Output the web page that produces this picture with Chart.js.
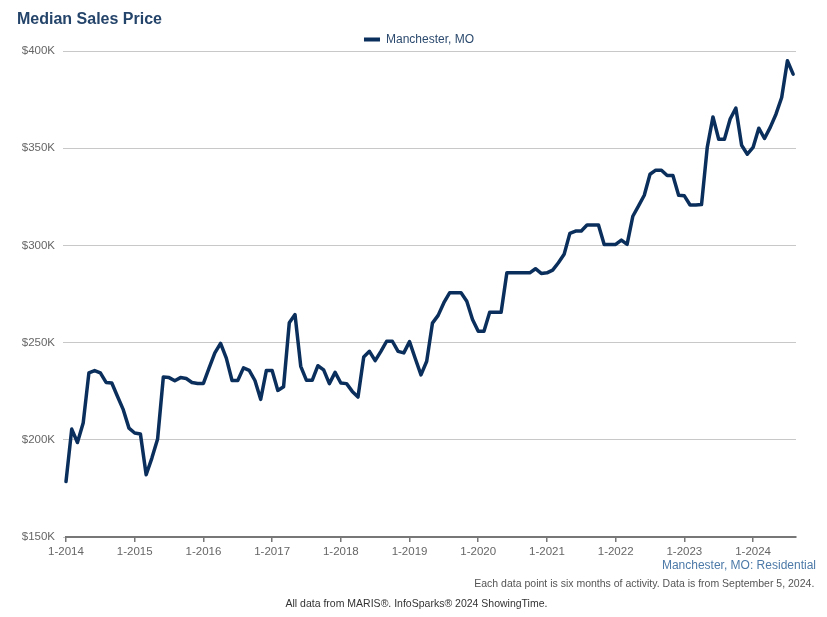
<!DOCTYPE html>
<html>
<head>
<meta charset="utf-8">
<script src="https://cdn.jsdelivr.net/npm/chart.js@4.4.1/dist/chart.umd.min.js"></script>
<style>
	body { margin: 0; background: #fff; font-family: "Liberation Sans", Arial, sans-serif; }
	#wrap { position: relative; width: 827px; height: 617px; }
	#wrap canvas { position: absolute; left: 0; top: 0; }
	.txt { position: absolute; white-space: nowrap; }
	.title { left: 17px; top: 10.5px; font-size: 16px; line-height: 16px; font-weight: bold; color: #24446a; }
	.series { right: 11px; top: 559px; font-size: 12px; line-height: 12px; color: #4d7aa8; }
	.note { right: 12.7px; top: 578.2px; font-size: 10.5px; line-height: 10.5px; color: #555; }
	.source { left: 0; width: 833px; text-align: center; top: 598.2px; font-size: 10.5px; line-height: 10.5px; color: #333; }
</style>
</head>
<body>
<div id="wrap">
	<canvas id="pricechart" width="827" height="617"></canvas>
	<div class="txt title">Median Sales Price</div>
	<div class="txt series">Manchester, MO: Residential</div>
	<div class="txt note">Each data point is six months of activity. Data is from September 5, 2024.</div>
	<div class="txt source">All data from MARIS®. InfoSparks® 2024 ShowingTime.</div>
</div>
<script>
var seriesLabel = 'Manchester, MO';
var yearLabels = ['1-2014', '1-2015', '1-2016', '1-2017', '1-2018', '1-2019', '1-2020', '1-2021', '1-2022', '1-2023', '1-2024'];
var yTicks = [150, 200, 250, 300, 350, 400];

// median sales price in $K, one value per month from 1-2014 to 8-2024
var medianPriceK = [
	178.5, 205.5, 198.6, 208.6, 234.4, 235.6, 234.4, 229.5, 229.2, 222.3, 215.5, 206.0,
	203.5, 203.0, 182.0, 190.6, 200.4, 232.3, 232.0, 230.4, 232.0, 231.5, 229.5, 229.0,
	229.0, 237.0, 244.7, 249.6, 242.0, 230.5, 230.5, 237.0, 235.7, 230.5, 220.8, 235.7,
	235.7, 225.4, 227.3, 260.2, 264.4, 237.8, 230.6, 230.6, 238.1, 236.0, 228.9, 234.7,
	229.2, 228.9, 224.9, 222.0, 242.6, 245.5, 240.7, 245.5, 250.7, 250.7, 245.5, 244.7,
	250.5, 241.8, 233.4, 240.4, 260.0, 264.0, 270.5, 275.6, 275.6, 275.6, 271.3, 261.9,
	255.8, 255.8, 265.6, 265.6, 265.6, 285.9, 285.9, 285.9, 285.9, 285.9, 288.0, 285.6,
	285.9, 287.3, 291.1, 295.4, 306.2, 307.4, 307.4, 310.5, 310.5, 310.5, 300.5, 300.5,
	300.5, 302.7, 300.5, 315.0, 320.3, 325.8, 336.6, 338.7, 338.7, 336.0, 336.0, 325.8,
	325.5, 320.8, 320.8, 321.0, 350.4, 366.1, 354.6, 354.6, 365.0, 370.6, 351.5, 346.9,
	350.4, 360.3, 355.0, 360.7, 367.5, 376.1, 395.0, 388.1
];

var points = [];
for (let i = 0; i < medianPriceK.length; i++) {
	points.push({ x: i, y: medianPriceK[i] });
}

var navy = '#0b2f5c';
var tickFont = { family: '"Liberation Sans", Arial, sans-serif', size: 11.5 };

// legend sits a bit right of the canvas centre and closer to the plot in the original
var legendNudge = {
	id: 'legendNudge',
	afterLayout: function (chart) {
		var lg = chart.legend;
		if (!lg) return;
		lg.left += 21;
		lg.right += 21;
		lg.top += 4.5;
		lg.bottom += 4.5;
	}
};

var ctx = document.getElementById('pricechart').getContext('2d');
var priceChart = new Chart(ctx, {
	type: 'line',
	data: {
		datasets: [{
			label: seriesLabel,
			data: points,
			borderColor: navy,
			backgroundColor: navy,
			borderWidth: 3.5,
			borderJoinStyle: 'round',
			borderCapStyle: 'round',
			pointRadius: 0,
			tension: 0,
			clip: 4
		}]
	},
	plugins: [legendNudge],
	options: {
		responsive: false,
		animation: false,
		layout: {
			padding: { top: 23, left: 0, right: 31, bottom: 0 }
		},
		plugins: {
			legend: {
				position: 'top',
				labels: {
					boxWidth: 16,
					boxHeight: 4,
					padding: 6,
					color: '#2c4a6e',
					font: { family: '"Liberation Sans", Arial, sans-serif', size: 12 },
					generateLabels: function (chart) {
						var items = Chart.defaults.plugins.legend.labels.generateLabels(chart);
						items.forEach(function (it) { it.lineWidth = 0; });
						return items;
					}
				}
			},
			tooltip: { enabled: false }
		},
		scales: {
			x: {
				type: 'linear',
				min: 0,
				max: 127.5,
				afterFit: function (scale) { scale.height = 80; },
				ticks: {
					stepSize: 12,
					includeBounds: false,
					maxRotation: 0,
					autoSkip: false,
					padding: 3,
					color: '#666',
					font: tickFont,
					callback: function (value) {
						return yearLabels[value / 12] || '';
					}
				},
				grid: {
					drawOnChartArea: false,
					drawTicks: true,
					tickLength: 5,
					tickColor: '#777',
					lineWidth: 1.5
				},
				border: { display: true, color: '#777', width: 2 }
			},
			y: {
				min: yTicks[0],
				max: yTicks[yTicks.length - 1],
				afterFit: function (scale) { scale.width = 66; },
				afterBuildTicks: function (scale) {
					scale.ticks = yTicks.map(function (v) { return { value: v }; });
				},
				ticks: {
					padding: 8,
					color: '#666',
					font: tickFont,
					callback: function (value) {
						return '$' + value + 'K';
					}
				},
				grid: {
					color: '#c8c8c8',
					lineWidth: 1,
					tickLength: 3
				},
				border: { display: false }
			}
		}
	}
});
</script>
</body>
</html>
